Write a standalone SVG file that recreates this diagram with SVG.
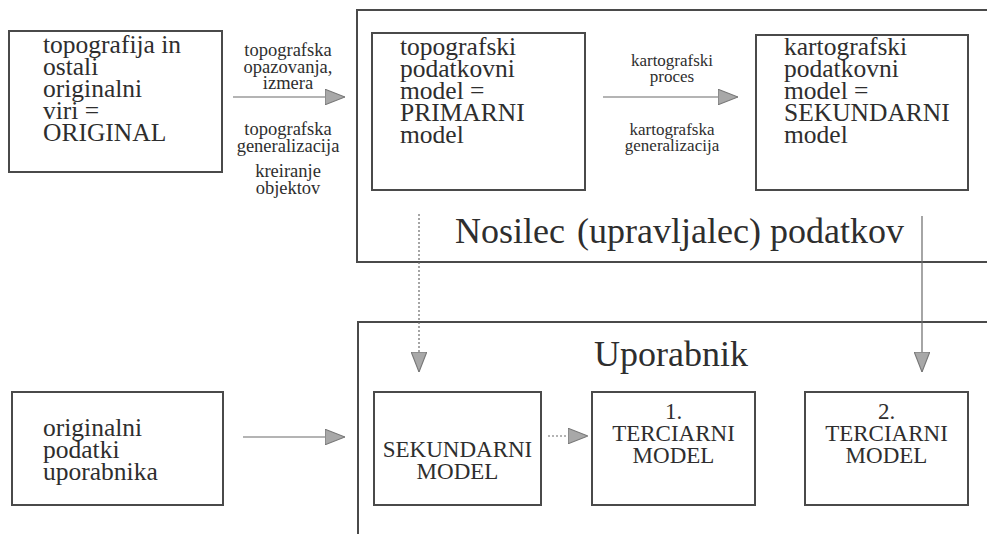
<svg xmlns="http://www.w3.org/2000/svg" width="987" height="534" viewBox="0 0 987 534">
<defs>
<style>
.box{fill:none;stroke:#4a4a4a;stroke-width:2}
.t{font-family:"Liberation Serif","Times New Roman",Times,"DejaVu Serif","Noto Serif",FreeSerif,serif;fill:#2e2e2e}
.big{font-size:25.5px}
.lab{font-size:18.5px;text-anchor:middle}
.lab2{font-size:17px;text-anchor:middle}
.cap{font-size:23px;text-anchor:middle}
.title{font-size:36px}
.con{stroke:#6a6a6a;stroke-width:1.2;fill:none}
.dot{stroke:#6a6a6a;stroke-width:1.2;fill:none;stroke-dasharray:2 2}
</style>
<marker id="ah" markerUnits="userSpaceOnUse" markerWidth="20" markerHeight="16" viewBox="0 0 18 14" refX="18" refY="7" orient="auto">
<path d="M0,0 L18,7 L0,14 Z" fill="#a8a8a8" stroke="#777" stroke-width="1"/>
</marker>
</defs>
<rect width="987" height="534" fill="#fff"/>

<g id="nosilec">
<rect class="box" x="357" y="10" width="640" height="252"/>
<text class="t title" y="243"><tspan x="455">Nosilec</tspan><tspan x="577">(upravljalec)</tspan><tspan x="770">podatkov</tspan></text>
</g>

<g id="uporabnik">
<rect class="box" x="358" y="322" width="640" height="240"/>
<text class="t title" x="671" y="366" text-anchor="middle">Uporabnik</text>
</g>

<g id="original">
<rect class="box" x="9" y="31" width="213" height="141"/>
<text class="t big"><tspan x="43" y="53">topografija in</tspan><tspan x="43" y="75">ostali</tspan><tspan x="43" y="97">originalni</tspan><tspan x="43" y="119">viri =</tspan><tspan x="43" y="141">ORIGINAL</tspan></text>
</g>

<g id="primarni">
<rect class="box" x="372" y="33" width="213" height="157"/>
<text class="t big"><tspan x="400" y="55">topografski</tspan><tspan x="400" y="77">podatkovni</tspan><tspan x="400" y="99">model =</tspan><tspan x="400" y="121">PRIMARNI</tspan><tspan x="400" y="143">model</tspan></text>
</g>

<g id="sekundarni">
<rect class="box" x="756" y="35" width="212" height="155"/>
<text class="t big"><tspan x="784" y="55">kartografski</tspan><tspan x="784" y="77">podatkovni</tspan><tspan x="784" y="99">model =</tspan><tspan x="784" y="121">SEKUNDARNI</tspan><tspan x="784" y="143">model</tspan></text>
</g>

<g id="uporabnik-podatki">
<rect class="box" x="12" y="392" width="211" height="113"/>
<text class="t big"><tspan x="43" y="436">originalni</tspan><tspan x="43" y="458">podatki</tspan><tspan x="43" y="480">uporabnika</tspan></text>
</g>

<g id="sek-model">
<rect class="box" x="374" y="392" width="167" height="113"/>
<text class="t cap"><tspan x="457.5" y="457">SEKUNDARNI</tspan><tspan x="457.5" y="479">MODEL</tspan></text>
</g>

<g id="terciarni1">
<rect class="box" x="592" y="392" width="163" height="113"/>
<text class="t cap"><tspan x="673.5" y="419">1.</tspan><tspan x="673.5" y="441">TERCIARNI</tspan><tspan x="673.5" y="463">MODEL</tspan></text>
</g>

<g id="terciarni2">
<rect class="box" x="805" y="392" width="163" height="113"/>
<text class="t cap"><tspan x="886.5" y="419">2.</tspan><tspan x="886.5" y="441">TERCIARNI</tspan><tspan x="886.5" y="463">MODEL</tspan></text>
</g>

<g id="connectors">
<line class="con" x1="233" y1="97" x2="345" y2="97" marker-end="url(#ah)"/>
<text class="t lab"><tspan x="288" y="56">topografska</tspan><tspan x="288" y="72.5">opazovanja,</tspan><tspan x="288" y="89">izmera</tspan></text>
<text class="t lab"><tspan x="288" y="135">topografska</tspan><tspan x="288" y="151.5">generalizacija</tspan><tspan x="288" y="177">kreiranje</tspan><tspan x="288" y="193.5">objektov</tspan></text>

<line class="con" x1="603" y1="97" x2="738" y2="97" marker-end="url(#ah)"/>
<text class="t lab2"><tspan x="672" y="66">kartografski</tspan><tspan x="672" y="82">proces</tspan><tspan x="672" y="135">kartografska</tspan><tspan x="672" y="151">generalizacija</tspan></text>

<line class="dot" x1="419" y1="214" x2="419" y2="372" marker-end="url(#ah)"/>
<line class="con" x1="922" y1="216" x2="922" y2="372" marker-end="url(#ah)"/>

<line class="con" x1="243" y1="437" x2="345" y2="437" marker-end="url(#ah)"/>
<line class="dot" x1="548" y1="436" x2="588" y2="436" marker-end="url(#ah)"/>
</g>
</svg>
